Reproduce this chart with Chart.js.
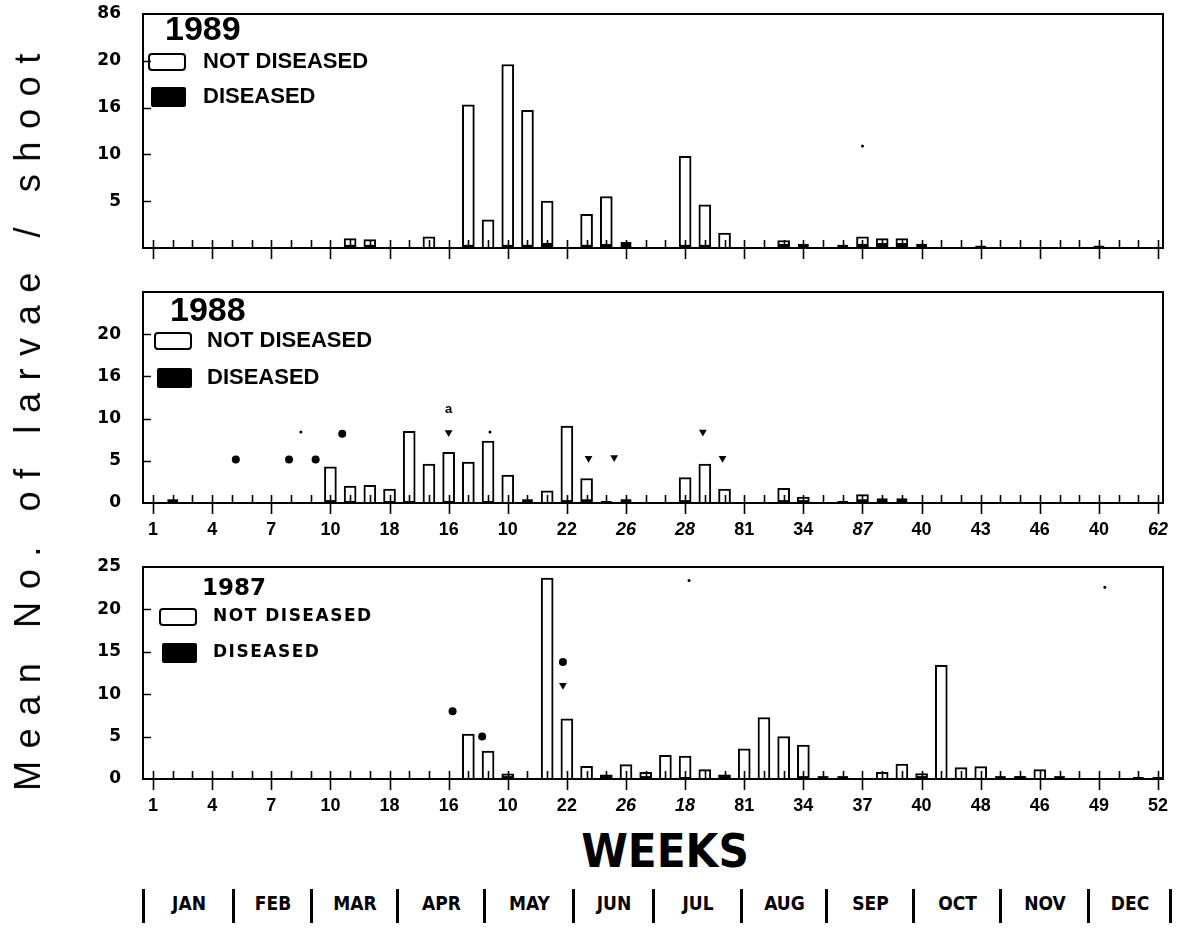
<!DOCTYPE html>
<html>
<head>
<meta charset="utf-8">
<script src="https://cdn.jsdelivr.net/npm/chart.js@4.4.0/dist/chart.umd.min.js"></script>
<style>
  html, body { margin: 0; padding: 0; background: #fff; }
  #page { position: relative; width: 1186px; height: 937px; overflow: hidden; font-family: "Liberation Sans", Arial, sans-serif; color: #000; }
  canvas { position: absolute; left: 0; }
  #ytitle { position: absolute; left: 28px; top: 416px; transform: translate(-50%, -50%) rotate(-90deg); white-space: nowrap; font-size: 36px; letter-spacing: 12.6px; }
  #weeks { position: absolute; left: 665px; top: 850px; transform: translate(-50%, -50%); font: bold 47px "Liberation Sans Narrow", "DejaVu Sans Condensed", sans-serif; }
  .month { position: absolute; top: 892px; height: 28px; line-height: 28px; text-align: center; font: bold 19px "Liberation Sans Narrow", "DejaVu Sans Condensed", sans-serif; transform: translateX(-50%); }
  .sep { position: absolute; top: 889px; width: 3px; height: 34px; background: #000; }
</style>
</head>
<body>
<div id="page">
  <canvas id="c1989" width="1186" height="264" style="top:4px"></canvas>
  <canvas id="c1988" width="1186" height="261" style="top:282px"></canvas>
  <canvas id="c1987" width="1186" height="262" style="top:557px"></canvas>
  <div id="ytitle">Mean No. of larvae / shoot</div>
  <div id="weeks">WEEKS</div>
  <div id="months"></div>
</div>
<script>
// weeks 1..52
const weeks = Array.from({length: 52}, (_, i) => i + 1);
const labeledWeeks = [1, 4, 7, 10, 13, 16, 19, 22, 25, 28, 31, 34, 37, 40, 43, 46, 49, 52];
const yValues = [0, 5, 10, 15, 20, 25];

// tick labels as printed
const xLabels1988 = ['1', '4', '7', '10', '18', '16', '10', '22', '26', '28', '81', '34', '87', '40', '43', '46', '40', '62'];
const xLabels1987 = ['1', '4', '7', '10', '18', '16', '10', '22', '26', '18', '81', '34', '37', '40', '48', '46', '49', '52'];
const italic1988 = [8, 9, 12, 17];
const italic1987 = [8, 9];
const yLabels1989 = ['', '5', '10', '16', '20', '86'];
const yLabels1988 = ['0', '5', '10', '16', '20', ''];
const yLabels1987 = ['0', '5', '10', '15', '20', '25'];

// 1989
const notDiseased1989 = [0,0,0,0,0,0,0,0,0,0, 1.0,0.9,0,0,1.2,0,15.3,3.0,19.6,14.7, 5.0,0,3.6,5.5,0,0,0,9.8,4.6,1.6, 0,0,0.8,0,0,0,1.2,1.0,1.0,0, 0,0,0,0,0,0,0,0,0,0, 0,0];
const diseased1989 = [0,0,0,0,0,0,0,0,0,0, 0.3,0.3,0,0,0,0,0.3,0,0.3,0.3, 0.5,0,0.3,0.4,0.6,0,0,0.3,0.3,0, 0,0,0.4,0.4,0,0.3,0.4,0.5,0.5,0.4, 0,0,0.2,0,0,0,0,0,0.2,0, 0,0];
const specks1989 = [{x: 37, y: 10.9}];

// 1988
const notDiseased1988 = [0,0,0,0,0,0,0,0,0,4.3, 2.0,2.1,1.65,8.5,4.6,6.0,4.85,7.35,3.3,0, 1.45,9.1,2.9,0,0,0,0,3.0,4.6,1.65, 0,0,1.75,0.7,0,0,1.0,0,0,0, 0,0,0,0,0,0,0,0,0,0, 0,0];
const diseased1988 = [0,0.4,0,0,0,0,0,0,0,0.3, 0.2,0,0.2,0.2,0,0.2,0,0.2,0,0.4, 0,0.3,0.4,0.2,0.4,0,0,0.3,0,0, 0,0,0.3,0.3,0,0.2,0.4,0.5,0.5,0, 0,0,0,0,0,0,0,0,0,0, 0,0];
const dotWeeks1988 = [5.2, 7.9, 9.25, 10.6];
const dotValues1988 = [5.15, 5.15, 5.15, 8.2];
const triWeeks1988 = [16.0, 23.1, 24.4, 28.9, 29.9];
const triValues1988 = [8.35, 5.3, 5.4, 8.4, 5.3];
const specks1988 = [{x: 8.5, y: 8.4}, {x: 18.1, y: 8.4}];
const notes1988 = [{x: 16.0, y: 11.1, text: 'a'}];

// 1987
const notDiseased1987 = [0,0,0,0,0,0,0,0,0,0, 0,0,0,0,0,0,5.3,3.3,0.6,0, 23.7,7.1,1.5,0.5,1.7,0.8,2.8,2.7,1.1,0.5, 3.55,7.25,5.0,4.0,0,0,0,0.8,1.75,0.65, 13.4,1.35,1.45,0,0.3,1.1,0,0,0,0, 0,0];
const diseased1987 = [0,0,0,0,0,0,0,0,0,0, 0,0,0,0,0,0,0,0,0.3,0, 0,0,0,0.3,0,0.3,0,0.2,0,0.3, 0,0,0,0.3,0.3,0.3,0,0,0,0.3, 0,0,0,0.3,0.3,0,0.3,0,0,0, 0.2,0.2];
const dotWeeks1987 = [16.2, 17.7, 21.8];
const dotValues1987 = [8.0, 5.0, 13.8];
const triWeeks1987 = [21.8];
const triValues1987 = [11.05];
const specks1987 = [{x: 28.2, y: 23.4}, {x: 49.3, y: 22.6}];

const months = ['JAN', 'FEB', 'MAR', 'APR', 'MAY', 'JUN', 'JUL', 'AUG', 'SEP', 'OCT', 'NOV', 'DEC'];

// frame, week ticks and y ticks drawn on the chart area
const frame = {
    id: 'frame',
    afterDatasetsDraw(chart) {
        const {ctx, chartArea: a, scales: {x, y}} = chart;
        ctx.save();
        ctx.strokeStyle = '#000';
        ctx.lineWidth = 1.6;
        ctx.beginPath();
        weeks.forEach(w => {
            const px = Math.round(x.getPixelForValue(w)) + 0.5;
            ctx.moveTo(px, a.bottom - 8);
            ctx.lineTo(px, (w - 1) % 3 === 0 ? a.bottom + 11 : a.bottom);
        });
        [5, 10, 15, 20].forEach(v => {
            const py = Math.round(y.getPixelForValue(v)) + 0.5;
            ctx.moveTo(a.left, py);
            ctx.lineTo(a.left + 8, py);
        });
        ctx.stroke();
        ctx.lineWidth = 2;
        ctx.strokeRect(a.left, a.top, a.right - a.left, a.bottom - a.top);
        ctx.restore();
    }
};

// year + key drawn inside each panel
const panelKey = {
    id: 'panelKey',
    afterDraw(chart, args, o) {
        const {ctx, chartArea: a} = chart;
        const ds = chart.data.datasets;
        ctx.save();
        ctx.fillStyle = '#000';
        ctx.strokeStyle = '#000';
        ctx.textBaseline = 'middle';
        ctx.font = o.yearFont;
        ctx.fillText(o.year, o.yearX, a.top + o.yearDy);
        ctx.font = o.font;
        ctx.letterSpacing = o.spacing;
        ctx.lineWidth = 2;
        ctx.beginPath();
        ctx.roundRect(o.boxX, a.top + o.row1 - 8, 36, 16, 3);
        ctx.stroke();
        ctx.fillText(ds[0].label, o.textX, a.top + o.row1);
        ctx.beginPath();
        ctx.roundRect(o.boxX + 2, a.top + o.row2 - 10, 35, 20, 2);
        ctx.fill();
        ctx.fillText(ds[1].label, o.textX, a.top + o.row2);
        ctx.restore();
    }
};

// small text notes at data positions
const notes = {
    id: 'notes',
    afterDatasetsDraw(chart, args, o) {
        if (!o.items) return;
        const {ctx, scales: {x, y}} = chart;
        ctx.save();
        ctx.fillStyle = '#000';
        ctx.font = 'bold 13px "Liberation Sans"';
        ctx.textAlign = 'center';
        ctx.textBaseline = 'middle';
        o.items.forEach(n => ctx.fillText(n.text, x.getPixelForValue(n.x), y.getPixelForValue(n.y)));
        ctx.restore();
    }
};

function toPoints(xs, ys) {
    return xs.map((v, i) => ({x: v, y: ys[i]}));
}

function makePanel(id, p) {
    const datasets = [
        {label: 'NOT DISEASED', data: p.notDiseased, backgroundColor: '#fff', borderColor: '#000',
         borderWidth: {top: 2, left: 2, right: 2, bottom: 0}, barThickness: 12, grouped: false, order: 3},
        {label: 'DISEASED', data: p.diseased, backgroundColor: '#000', borderWidth: 0,
         barThickness: 10, grouped: false, order: 2},
        {type: 'scatter', label: 'dots', data: p.dots || [], pointStyle: 'circle', pointRadius: 4,
         backgroundColor: '#000', borderWidth: 0, order: 1},
        {type: 'scatter', label: 'triangles', data: p.tris || [], pointStyle: 'triangle', pointRotation: 180,
         pointRadius: 4.5, backgroundColor: '#000', borderWidth: 0, order: 1},
        {type: 'scatter', label: 'specks', data: p.specks || [], pointStyle: 'circle', pointRadius: 1.5,
         backgroundColor: '#000', borderWidth: 0, order: 1}
    ];
    new Chart(document.getElementById(id), {
        type: 'bar',
        data: {labels: weeks, datasets},
        plugins: [frame, panelKey, notes],
        options: {
            responsive: false,
            animation: false,
            events: [],
            layout: {padding: {top: 10, right: 23, left: 0, bottom: 0}},
            plugins: {
                legend: {display: false},
                tooltip: {enabled: false},
                panelKey: p.key,
                notes: {items: p.notes}
            },
            scales: {
                x: {
                    type: 'linear',
                    offset: false,
                    min: 0.49,
                    max: 52.25,
                    grid: {display: false, offset: false},
                    border: {display: false},
                    afterBuildTicks: s => { s.ticks = labeledWeeks.map(v => ({value: v})); },
                    afterFit: s => { s.height = p.xHeight; s.paddingLeft = 0; s.paddingRight = 0; },
                    ticks: {
                        display: !!p.xLabels,
                        autoSkip: false,
                        maxRotation: 0,
                        padding: 8,
                        color: '#000',
                        callback: (v, i) => p.xLabels ? p.xLabels[i] : '',
                        font: ctx => ({
                            family: '"Liberation Sans", Arial, sans-serif',
                            size: 18,
                            weight: 'bold',
                            style: p.italic && p.italic.includes(ctx.index) ? 'italic' : 'normal'
                        })
                    }
                },
                y: {
                    min: 0,
                    max: 25,
                    grid: {display: false},
                    border: {display: false},
                    afterBuildTicks: s => { s.ticks = yValues.map(v => ({value: v})); },
                    afterFit: s => { s.width = 143; s.paddingTop = 0; s.paddingBottom = 0; },
                    ticks: {
                        padding: 14,
                        color: '#000',
                        callback: (v, i) => p.yLabels[i],
                        font: {family: '"DejaVu Sans", sans-serif', size: 17, weight: 'bold'}
                    }
                }
            }
        }
    });
}

makePanel('c1989', {
    notDiseased: notDiseased1989, diseased: diseased1989, specks: specks1989,
    yLabels: yLabels1989, xHeight: 20,
    key: {year: '1989', yearFont: 'bold 34px "Liberation Sans"', yearX: 165, yearDy: 17,
          font: 'bold 22px "Liberation Sans"', spacing: '0px', boxX: 149, textX: 203, row1: 48, row2: 83}
});
makePanel('c1988', {
    notDiseased: notDiseased1988, diseased: diseased1988,
    dots: toPoints(dotWeeks1988, dotValues1988), tris: toPoints(triWeeks1988, triValues1988),
    specks: specks1988, notes: notes1988,
    xLabels: xLabels1988, italic: italic1988, yLabels: yLabels1988, xHeight: 40,
    key: {year: '1988', yearFont: 'bold 34px "Liberation Sans"', yearX: 170, yearDy: 20,
          font: 'bold 22px "Liberation Sans"', spacing: '0px', boxX: 155, textX: 207, row1: 49, row2: 86}
});
makePanel('c1987', {
    notDiseased: notDiseased1987, diseased: diseased1987,
    dots: toPoints(dotWeeks1987, dotValues1987), tris: toPoints(triWeeks1987, triValues1987),
    specks: specks1987,
    xLabels: xLabels1987, italic: italic1987, yLabels: yLabels1987, xHeight: 40,
    key: {year: '1987', yearFont: 'bold 23px "DejaVu Sans"', yearX: 202, yearDy: 22,
          font: 'bold 17px "DejaVu Sans"', spacing: '1.5px', boxX: 160, textX: 213, row1: 50, row2: 86}
});

// month strip under the weeks
const sepX = [143, 233, 311, 397, 484, 573, 653, 741, 826, 913, 1000, 1088, 1170];
const strip = document.getElementById('months');
sepX.forEach(x => {
    const s = document.createElement('div');
    s.className = 'sep';
    s.style.left = (x - 1) + 'px';
    strip.appendChild(s);
});
months.forEach((m, i) => {
    const d = document.createElement('div');
    d.className = 'month';
    d.textContent = m;
    d.style.left = ((sepX[i] + sepX[i + 1]) / 2 + 1) + 'px';
    strip.appendChild(d);
});
</script>
</body>
</html>
